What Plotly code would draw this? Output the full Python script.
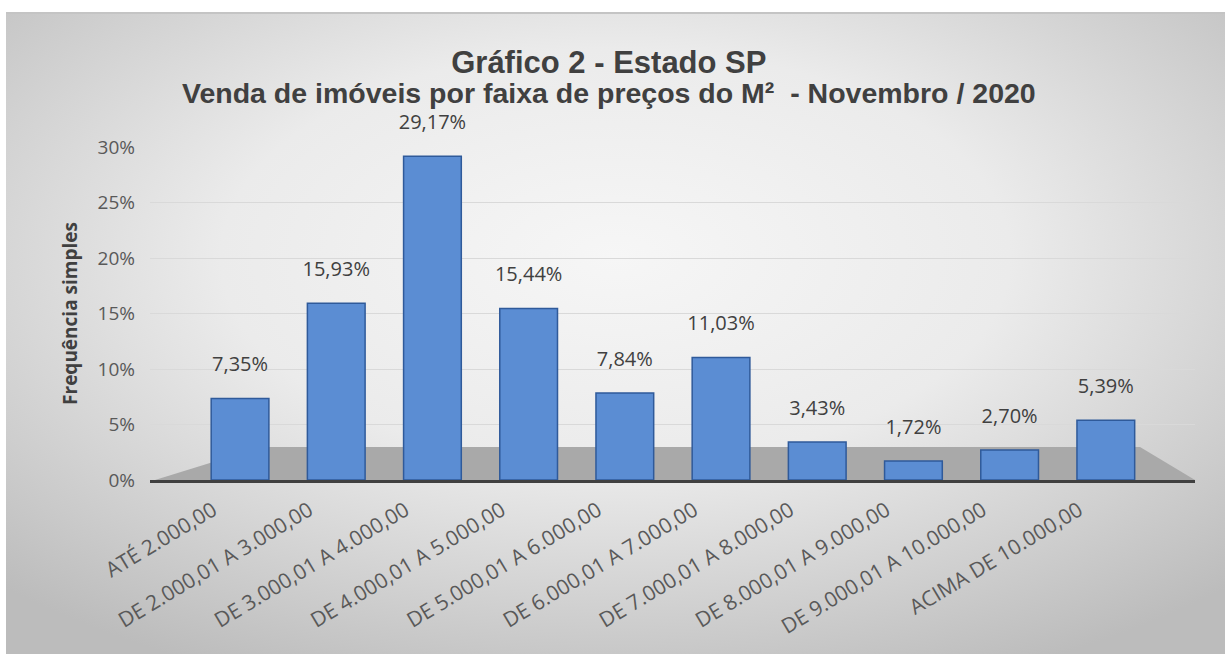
import base64
import plotly.graph_objects as go

categories = [
    "ATÉ 2.000,00",
    "DE 2.000,01 A 3.000,00",
    "DE 3.000,01 A 4.000,00",
    "DE 4.000,01 A 5.000,00",
    "DE 5.000,01 A 6.000,00",
    "DE 6.000,01 A 7.000,00",
    "DE 7.000,01 A 8.000,00",
    "DE 8.000,01 A 9.000,00",
    "DE 9.000,01 A 10.000,00",
    "ACIMA DE 10.000,00",
]
frequencia = [0.0735, 0.1593, 0.2917, 0.1544, 0.0784, 0.1103, 0.0343, 0.0172, 0.0270, 0.0539]
y_ticks = [0, 0.05, 0.10, 0.15, 0.20, 0.25, 0.30]

title_line1 = "Gráfico 2 - Estado SP"
title_line2 = "Venda de imóveis por faixa de preços do M²  - Novembro / 2020"
y_title = "Frequência simples"

W, H = 1225, 654
L, R, T, B = 150, 30, 147, 174
PW, PH = W - L - R, H - T - B


def px_x(p):
    return (p - L) / PW


def px_y(p):
    return (H - B - p) / PH


svg = (
    '<svg xmlns="http://www.w3.org/2000/svg" width="1219" height="641" preserveAspectRatio="none">'
    '<defs><radialGradient id="g" cx="50%" cy="38%" r="72%">'
    '<stop offset="0" stop-color="#f6f6f6"/>'
    '<stop offset="0.45" stop-color="#ebebeb"/>'
    '<stop offset="1" stop-color="#bcbcbc"/>'
    '</radialGradient></defs>'
    '<rect width="1219" height="641" fill="url(#g)"/></svg>'
)
bg_uri = "data:image/svg+xml;base64," + base64.b64encode(svg.encode()).decode()

xs = list(range(len(categories)))

fig = go.Figure()
fig.add_trace(
    go.Bar(
        x=xs,
        y=frequencia,
        width=0.6,
        marker=dict(color="#5B8DD3", line=dict(color="#2F5A9A", width=1.5)),
        cliponaxis=False,
        hoverinfo="skip",
    )
)
# data labels, lifted above the bar tops (as in the 3D original)
fig.add_trace(
    go.Scatter(
        x=xs,
        y=frequencia,
        mode="markers+text",
        marker=dict(size=34, opacity=0),
        texttemplate="%{y:.2%}",
        textposition="top center",
        textfont=dict(family="Open Sans", size=20, color="#404040"),
        cliponaxis=False,
        hoverinfo="skip",
    )
)

title_text = (
    f"<b><span style='font-size:31px'>{title_line1}</span><br>"
    f"<span style='font-size:28.5px'>{title_line2}</span></b>"
)

fig.update_layout(
    width=W,
    height=H,
    margin=dict(l=L, r=R, t=T, b=B, autoexpand=False),
    paper_bgcolor="white",
    plot_bgcolor="rgba(0,0,0,0)",
    separators=",.",
    showlegend=False,
    xaxis=dict(
        tickmode="array",
        tickvals=xs,
        ticktext=categories,
        range=[-0.936, 9.927],
        tickangle=-31,
        tickfont=dict(family="Open Sans", size=21, color="#595959"),
        showline=True,
        linecolor="#404040",
        linewidth=3,
        ticks="",
        showgrid=False,
        zeroline=False,
        ticklabelshift=-27,
        ticklabelstandoff=7,
        automargin=False,
    ),
    yaxis=dict(
        range=[0, 0.30],
        tickvals=y_ticks,
        tickformat=".0%",
        tickfont=dict(family="Open Sans", size=19, color="#595959"),
        showgrid=True,
        gridcolor="#d9d9d9",
        gridwidth=1,
        zeroline=False,
        showline=False,
        ticks="",
        ticklabelstandoff=14,
        automargin=False,
        title=dict(
            text=y_title,
            font=dict(family="Open Sans", size=19, color="#404040", weight="bold"),
            standoff=14,
        ),
    ),
    images=[
        dict(
            source=bg_uri,
            xref="paper",
            yref="paper",
            x=px_x(6),
            y=px_y(13),
            sizex=(W - 6) / PW,
            sizey=(H - 13) / PH,
            xanchor="left",
            yanchor="top",
            sizing="stretch",
            layer="below",
        )
    ],
    shapes=[
        dict(
            type="path",
            xref="paper",
            yref="paper",
            path=(
                f"M {px_x(155)} {px_y(480)} L {px_x(1195)} {px_y(480)} "
                f"L {px_x(1140)} {px_y(447)} L {px_x(262)} {px_y(447)} Z"
            ),
            fillcolor="#a9a9a9",
            line=dict(width=0),
            layer="below",
        ),
        dict(
            type="line",
            xref="paper",
            yref="paper",
            x0=px_x(6),
            x1=px_x(W),
            y0=px_y(13),
            y1=px_y(13),
            line=dict(color="#c4c4c4", width=2),
            layer="below",
        ),
    ],
    annotations=[
        dict(
            text=title_text,
            xref="paper",
            yref="paper",
            x=px_x(609),
            y=px_y(77),
            xanchor="center",
            yanchor="middle",
            align="center",
            showarrow=False,
            font=dict(family="Liberation Sans", size=23, color="#404040"),
        ),
    ],
)

fig.write_html(
    "out.html",
    config={"displayModeBar": False},
    post_script="document.body.style.margin='0';document.body.style.overflow='hidden';",
)
